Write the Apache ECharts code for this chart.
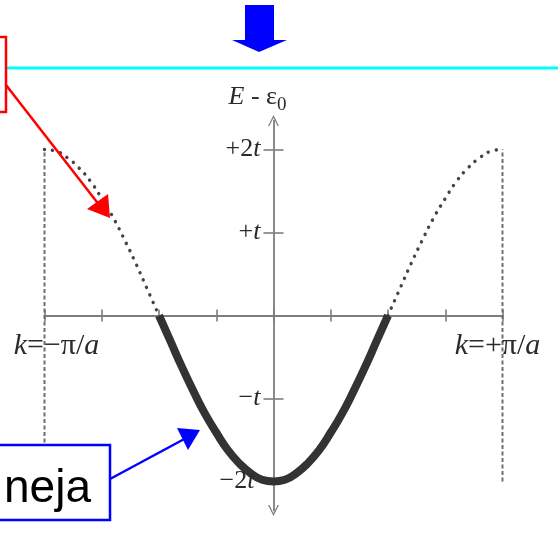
<!DOCTYPE html>
<html>
<head>
<meta charset="utf-8">
<script src="https://cdn.jsdelivr.net/npm/echarts@6/dist/echarts.min.js"></script>
<style>
  html, body { margin: 0; padding: 0; background: #fff; }
  #chart { width: 558px; height: 536px; }
</style>
</head>
<body>
<div id="chart"></div>
<script>
// Tight-binding band E(k) - ε0 across the first Brillouin zone (k in units of π/a, E in units of t)
const kPoints = [
  -1.00, -0.95, -0.90, -0.85, -0.80, -0.75, -0.70, -0.65, -0.60, -0.55,
  -0.50, -0.45, -0.40, -0.35, -0.30, -0.25, -0.20, -0.15, -0.10, -0.05,
   0.00,  0.05,  0.10,  0.15,  0.20,  0.25,  0.30,  0.35,  0.40,  0.45,
   0.50,  0.55,  0.60,  0.65,  0.70,  0.75,  0.80,  0.85,  0.90,  0.95, 1.00
];
const bandEnergy = [
   2.00,  1.98,  1.90,  1.78,  1.62,  1.41,  1.18,  0.91,  0.62,  0.31,
   0.00, -0.31, -0.62, -0.91, -1.18, -1.41, -1.62, -1.78, -1.90, -1.98,
  -2.00, -1.98, -1.90, -1.78, -1.62, -1.41, -1.18, -0.91, -0.62, -0.31,
   0.00,  0.31,  0.62,  0.91,  1.18,  1.41,  1.62,  1.78,  1.90,  1.98, 2.00
];
// occupied part of the band (drawn heavy) lies between these k values
const filledRange = [-0.5, 0.5];
// zone boundaries and the energy span of their guide lines
const zoneEdges = [-1, 1];
const zoneSpan = [-2, 2];
// tick labels
const energyTicks = [-2, -1, 1, 2];
const energyTickText = ['{n|−2}{i|t}', '{n|−}{i|t}', '{n|+}{i|t}', '{n|+2}{i|t}'];
const kTicks = [-1, 1];
const kTickText = ['{i|k}{n|=−π/}{i|a}', '{i|k}{n|=+π/}{i|a}'];

const pts = kPoints.map((k, i) => [k, bandEnergy[i]]);
const inner = pts.filter(p => p[0] >= filledRange[0] && p[0] <= filledRange[1]);
const leftOuter = pts.filter(p => p[0] <= filledRange[0]);
const rightOuter = pts.filter(p => p[0] >= filledRange[1]);

const SERIF = 'Liberation Serif';
const axisGray = '#7d7d7d';
const textGray = '#2a2a2a';
const tickLine = { lineStyle: { color: axisGray, width: 1.6 } };
const chevron = 'path://M0,10 L5,0 L10,10 L8.7,10 L5,2.6 L1.3,10 Z';

function richSet(size) {
  return {
    n: { fontFamily: SERIF, fontSize: size, color: textGray },
    i: { fontFamily: SERIF, fontStyle: 'italic', fontSize: size, color: textGray }
  };
}

// label anchors sit on the axes through the chart's own scales
const energyLabelOffsets = [[-6, 0], [0, 0], [0, 0], [0, 0]];
const energyLabelData = energyTicks.map((v, i) => ({
  value: [0, v], labelText: energyTickText[i], label: { offset: energyLabelOffsets[i] }
}));
const kLabelOffsets = [[12, 0], [-5, 0]];
const kLabelData = kTicks.map((k, i) => ({
  value: [k, 0], labelText: kTickText[i], label: { offset: kLabelOffsets[i] }
}));

const chart = echarts.init(document.getElementById('chart'), null, { renderer: 'canvas' });

chart.setOption({
  animation: false,
  backgroundColor: '#fff',
  grid: { left: 44.5, right: 55.5, top: 120.5, bottom: 25.5, containLabel: false, outerBoundsMode: 'none' },
  xAxis: [
    {
      type: 'value', min: -1, max: 1, interval: 0.25, position: 'bottom',
      axisLine: { onZero: true, lineStyle: { color: axisGray, width: 1.8 } },
      axisTick: Object.assign({ length: 6 }, tickLine),
      splitLine: { show: false },
      axisLabel: { show: false }
    },
    {
      type: 'value', min: -1, max: 1, interval: 0.25, position: 'top',
      axisLine: { show: false, onZero: true },
      axisTick: Object.assign({ length: 6 }, tickLine),
      axisLabel: { show: false },
      splitLine: { show: false }
    }
  ],
  yAxis: [
    {
      type: 'value', min: -2.35, max: 2.35, position: 'left',
      axisLine: {
        onZero: true,
        symbol: [chevron, chevron], symbolSize: [12, 11],
        lineStyle: { color: axisGray, width: 1.8 }
      },
      axisTick: Object.assign({ length: 10, customValues: energyTicks }, tickLine),
      splitLine: { show: false },
      axisLabel: { show: false },
      name: '{e|E}{n| - ε}{s|0}',
      nameLocation: 'end',
      nameGap: 6,
      nameTextStyle: {
        padding: [0, 32, 0, 0],
        rich: {
          e: { fontFamily: SERIF, fontStyle: 'italic', fontSize: 26, color: textGray },
          n: { fontFamily: SERIF, fontSize: 26, color: textGray },
          s: { fontFamily: SERIF, fontSize: 19, color: textGray, padding: [16, 0, 0, 0] }
        }
      }
    },
    {
      type: 'value', min: -2.35, max: 2.35, position: 'right',
      axisLine: { show: false, onZero: true },
      axisTick: Object.assign({ length: 10, customValues: energyTicks }, tickLine),
      axisLabel: { show: false },
      splitLine: { show: false }
    }
  ],
  series: [
    {
      name: 'zone edges', type: 'line', symbol: 'none', silent: true,
      data: [[zoneEdges[0], zoneSpan[0]], [zoneEdges[0], zoneSpan[1]], null,
             [zoneEdges[1], zoneSpan[0]], [zoneEdges[1], zoneSpan[1]]],
      connectNulls: false,
      lineStyle: { color: '#6e6e6e', width: 2, type: [4, 2.5] },
      z: 2
    },
    {
      name: 'empty left', type: 'line', symbol: 'none', smooth: true, data: leftOuter,
      lineStyle: { color: '#444', width: 3.4, type: [0.1, 8], cap: 'round' }, z: 3
    },
    {
      name: 'empty right', type: 'line', symbol: 'none', smooth: true, data: rightOuter,
      lineStyle: { color: '#444', width: 3.4, type: [0.1, 8], cap: 'round' }, z: 3
    },
    {
      name: 'filled', type: 'line', symbol: 'none', smooth: true, data: inner,
      lineStyle: { color: '#333', width: 8, cap: 'butt' }, z: 4
    },
    {
      name: 'energy labels', type: 'scatter', symbolSize: 0, silent: true, data: energyLabelData,
      itemStyle: { opacity: 1 },
      label: {
        show: true, position: 'left', distance: 13, color: textGray,
        formatter: p => p.data.labelText, rich: richSet(26)
      },
      z: 5
    },
    {
      name: 'k labels', type: 'scatter', symbolSize: 0, silent: true, data: kLabelData,
      itemStyle: { opacity: 1 },
      label: {
        show: true, position: 'bottom', distance: 16, color: textGray,
        formatter: p => p.data.labelText, rich: richSet(30)
      },
      z: 5
    }
  ],
  graphic: [
    { type: 'line', z: 100, shape: { x1: 7, y1: 68, x2: 558, y2: 68 },
      style: { stroke: '#00ffff', lineWidth: 3 } },
    { type: 'polygon', z: 100,
      shape: { points: [[245, 5], [274, 5], [274, 40], [287, 40], [259, 52], [232, 40], [245, 40]] },
      style: { fill: '#0000ff' } },
    { type: 'rect', z: 100, shape: { x: -6, y: 37, width: 12, height: 75 },
      style: { fill: 'none', stroke: '#ff0000', lineWidth: 2.5 } },
    { type: 'line', z: 100, shape: { x1: 6, y1: 85, x2: 100, y2: 206 },
      style: { stroke: '#ff0000', lineWidth: 2.5 } },
    { type: 'polygon', z: 100, shape: { points: [[110, 218], [87, 209], [108, 194]] },
      style: { fill: '#ff0000' } },
    { type: 'rect', z: 100, shape: { x: -6, y: 445, width: 116, height: 75 },
      style: { fill: '#fff', stroke: '#0000ff', lineWidth: 2.5 } },
    { type: 'text', z: 101, x: 91, y: 466,
      style: { text: 'neja', fontFamily: 'Liberation Sans', fontSize: 46, fill: '#000',
               textAlign: 'right', textVerticalAlign: 'top' } },
    { type: 'line', z: 100, shape: { x1: 110, y1: 479, x2: 188, y2: 437 },
      style: { stroke: '#0000ff', lineWidth: 2.5 } },
    { type: 'polygon', z: 100, shape: { points: [[200, 430], [177, 428], [188, 450]] },
      style: { fill: '#0000ff' } }
  ]
});
</script>
</body>
</html>
